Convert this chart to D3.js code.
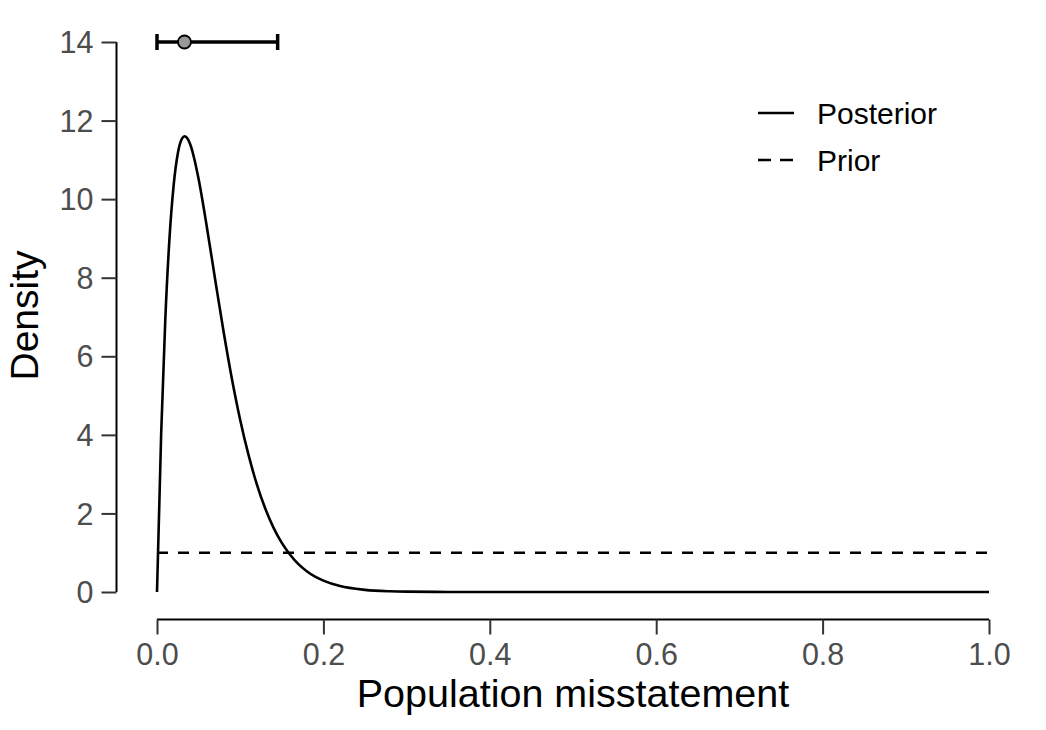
<!DOCTYPE html>
<html>
<head>
<meta charset="utf-8">
<script src="https://cdn.jsdelivr.net/npm/d3@7"></script>
<style>
  html, body { margin: 0; padding: 0; background: #fff; }
  svg { display: block; font-family: "Liberation Sans", Arial, sans-serif; }
</style>
</head>
<body>
<svg id="chart" width="1046" height="730"></svg>
<script>
// ---- data ----
const posteriorX = [0, 0.005, 0.01, 0.015, 0.02, 0.025, 0.03, 0.0333, 0.035, 0.04, 0.045, 0.05, 0.06, 0.07, 0.08, 0.09, 0.10, 0.11, 0.12, 0.13, 0.14, 0.15, 0.16, 0.17, 0.18, 0.19, 0.20, 0.22, 0.25, 0.28, 0.30, 0.35, 0.40, 0.50, 0.60, 0.70, 0.80, 0.90, 1.0];
const posteriorY = [0, 4.02, 6.95, 9.00, 10.35, 11.16, 11.54, 11.60, 11.58, 11.39, 11.01, 10.51, 9.28, 7.94, 6.63, 5.43, 4.38, 3.49, 2.74, 2.13, 1.64, 1.25, 0.95, 0.71, 0.53, 0.39, 0.29, 0.15, 0.055, 0.019, 0.009, 0.001, 0, 0, 0, 0, 0, 0, 0];
const priorX = [0, 1];
const priorY = [1, 1];
const estimate = { mode: 0.033, lower: 0, upper: 0.145, y: 14 };
const legendLabels = ["Posterior", "Prior"];
const xTicks = [0, 0.2, 0.4, 0.6, 0.8, 1.0];
const yTicks = [0, 2, 4, 6, 8, 10, 12, 14];

// ---- layout ----
const svg = d3.select("#chart");
const x = d3.scaleLinear().domain([0, 1]).range([157, 989]);
const y = d3.scaleLinear().domain([0, 14]).range([592, 42]);
const tickColor = "#4d4d4d";

// y axis
const yAxis = svg.append("g").attr("transform", "translate(116.5,0)")
  .call(d3.axisLeft(y).tickValues(yTicks).tickSize(15).tickPadding(8).tickFormat(d3.format("d")));
yAxis.select(".domain").attr("stroke", "#000").attr("stroke-width", 2).attr("d", `M0,${y(0)}V${y(14)}`);
yAxis.selectAll(".tick line").attr("stroke", "#333").attr("stroke-width", 2);
yAxis.selectAll(".tick text").attr("fill", tickColor).attr("font-size", 30.5)
  .attr("font-family", "Liberation Sans, Arial, sans-serif").attr("dy", "0.35em");

// x axis
const xAxis = svg.append("g").attr("transform", "translate(0,619.5)")
  .call(d3.axisBottom(x).tickValues(xTicks).tickSize(15).tickPadding(8).tickFormat(d3.format(".1f")));
xAxis.select(".domain").attr("stroke", "#000").attr("stroke-width", 2).attr("d", `M${x(0)},0H${x(1)}`);
xAxis.selectAll(".tick line").attr("stroke", "#333").attr("stroke-width", 2);
xAxis.selectAll(".tick text").attr("fill", tickColor).attr("font-size", 30.5)
  .attr("font-family", "Liberation Sans, Arial, sans-serif").attr("dy", "0.74em");

// axis titles
svg.append("text").attr("x", 573).attr("y", 707).attr("text-anchor", "middle")
  .attr("font-size", 39.5).attr("fill", "#000").text("Population misstatement");
svg.append("text").attr("transform", "translate(38,315.5) rotate(-90)").attr("text-anchor", "middle")
  .attr("font-size", 39).attr("fill", "#000").text("Density");

// lines
const line = d3.line().x(d => x(d[0])).y(d => y(d[1])).curve(d3.curveMonotoneX);
svg.append("path").datum(priorX.map((v, i) => [v, priorY[i]]))
  .attr("d", line).attr("fill", "none").attr("stroke", "#000").attr("stroke-width", 2.6)
  .attr("stroke-dasharray", "11,10");
svg.append("path").datum(posteriorX.map((v, i) => [v, posteriorY[i]]))
  .attr("d", line).attr("fill", "none").attr("stroke", "#000").attr("stroke-width", 2.6);

// estimate with interval
const eg = svg.append("g");
eg.append("line").attr("x1", x(estimate.lower)).attr("x2", x(estimate.upper))
  .attr("y1", y(estimate.y)).attr("y2", y(estimate.y)).attr("stroke", "#000").attr("stroke-width", 3.5);
[estimate.lower, estimate.upper].forEach(v => {
  eg.append("line").attr("x1", x(v)).attr("x2", x(v))
    .attr("y1", y(estimate.y) - 8).attr("y2", y(estimate.y) + 8)
    .attr("stroke", "#000").attr("stroke-width", 3.5);
});
eg.append("circle").attr("cx", x(estimate.mode)).attr("cy", y(estimate.y)).attr("r", 6.5)
  .attr("fill", "#999999").attr("stroke", "#000").attr("stroke-width", 1.8);

// legend
const leg = svg.append("g");
legendLabels.forEach((lab, i) => {
  const ly = 113 + i * 47;
  leg.append("line").attr("x1", 758).attr("x2", 794).attr("y1", ly).attr("y2", ly)
    .attr("stroke", "#000").attr("stroke-width", 2.6)
    .attr("stroke-dasharray", i === 1 ? "13,9" : null);
  leg.append("text").attr("x", 817).attr("y", ly + 10.5).attr("font-size", 30)
    .attr("fill", "#000").text(lab);
});
</script>
</body>
</html>
